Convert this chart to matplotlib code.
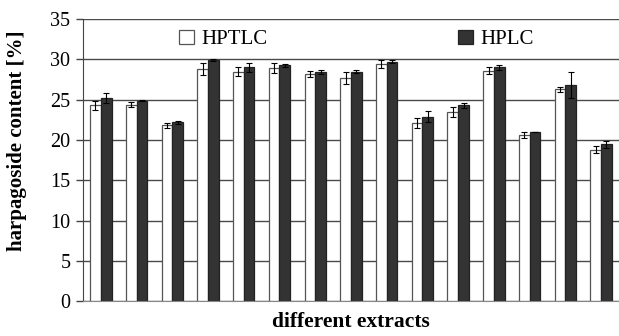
import matplotlib.pyplot as plt
import numpy as np

# values (harpagoside content, %)
hptlc = [24.3, 24.4, 21.8, 28.8, 28.5, 28.9, 28.2, 27.7, 29.4, 22.1, 23.5, 28.6, 20.6, 26.3, 18.8]
hptlc_err = [0.6, 0.3, 0.3, 0.7, 0.6, 0.6, 0.4, 0.8, 0.5, 0.6, 0.6, 0.4, 0.4, 0.3, 0.4]
hplc = [25.2, 24.9, 22.2, 29.9, 29.0, 29.25, 28.45, 28.5, 29.7, 22.9, 24.3, 29.0, 21.0, 26.8, 19.45]
hplc_err = [0.6, 0.05, 0.2, 0.1, 0.6, 0.2, 0.2, 0.2, 0.2, 0.65, 0.3, 0.3, 0.05, 1.65, 0.4]

plt.rcParams['font.family'] = ['Liberation Serif', 'DejaVu Serif']

x = np.arange(len(hptlc))
w = 0.3

fig = plt.figure(figsize=(6.19, 3.36), dpi=100)
ax = fig.add_axes([0.134, 0.104, 0.866, 0.839])

ax.set_axisbelow(True)
ax.yaxis.grid(True, color='#4a4a4a', linewidth=1.0)

err_kw = dict(ecolor='black', elinewidth=0.8, capsize=2.5, capthick=0.8)
ax.bar(x - w / 2, hptlc, w, yerr=hptlc_err, color='white', edgecolor='#555555',
       linewidth=0.9, label='HPTLC', error_kw=err_kw)
ax.bar(x + w / 2, hplc, w, yerr=hplc_err, color='#333333', edgecolor='#222222',
       linewidth=0.9, label='HPLC', error_kw=err_kw)

ax.set_xlim(-0.5, len(hptlc) - 0.5)
ax.set_ylim(0, 35)
ax.set_yticks(range(0, 36, 5))
ax.set_xticks([])
ax.tick_params(axis='y', labelsize=14.5, length=5, width=1, color='#444444', pad=4)

for s in ['top', 'right']:
    ax.spines[s].set_visible(False)
ax.spines['left'].set_color('#444444')
ax.spines['bottom'].set_color('#888888')

ax.set_ylabel('harpagoside content [%]', fontsize=15, fontweight='bold')
ax.yaxis.set_label_coords(-0.104, 0.57)
ax.set_xlabel('different extracts', fontsize=15.5, fontweight='bold', labelpad=8)

ax.legend(ncol=2, frameon=False, loc='upper center', bbox_to_anchor=(0.51, 1.0),
          fontsize=15, columnspacing=9.15, handlelength=0.7, handleheight=0.7,
          handletextpad=0.35, borderaxespad=0.1)

fig.savefig('out.png', dpi=100)
